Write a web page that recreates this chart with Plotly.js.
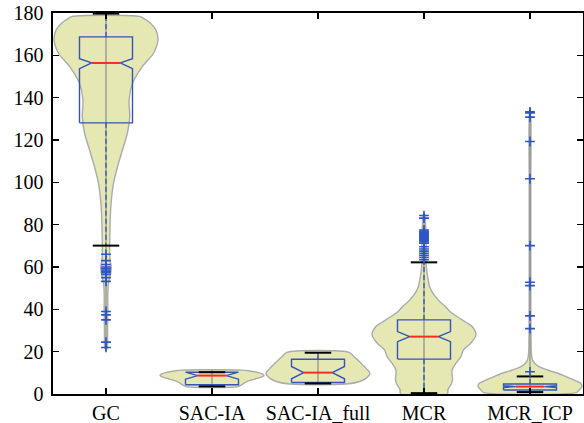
<!DOCTYPE html>
<html>
<head>
<meta charset="utf-8">
<script src="https://cdn.plot.ly/plotly-3.0.1.min.js"></script>
<style>
html,body{margin:0;padding:0;background:#fff;}
#chart{width:584px;height:423px;}
</style>
</head>
<body>
<div id="chart"></div>
<script>
// ---- data ----
const categories = ['GC', 'SAC-IA', 'SAC-IA_full', 'MCR', 'MCR_ICP'];
const q1        = [128.1, 4.4, 5.4, 16.5, 1.9];
const medians   = [156.4, 8.7, 10.1, 27.1, 3.5];
const q3        = [168.7, 10.3, 16.4, 35.0, 4.7];
const notchLo   = [153.7, 7.0, 7.2, 24.7, 3.1];
const notchHi   = [158.4, 10.3, 13.0, 29.5, 3.9];
const whiskerLo = [70.1, 3.6, 5.0, 0.4, 0.9];
const whiskerHi = [179.7, 10.3, 19.5, 62.2, 8.3];

const gcOutliers  = [66.0, 63.0, 61.2, 60.0, 59.3, 58.6, 58.0, 57.4, 56.5, 55.0, 53.2, 39.0, 37.4, 35.0, 24.5, 22.0];
const sacOutliers = [];
const sacFullOutliers = [];
const mcrOutliers = [84.3, 83.1, 77.5, 77.0, 76.5, 76.0, 75.5, 75.0, 74.5, 74.0, 73.5, 73.0, 72.5, 72.0, 71.3, 69.6, 68.5, 67.5, 66.5, 65.5, 64.5, 63.4];
const icpOutliers = [133.3, 132.8, 130.8, 119.3, 101.7, 70.1, 52.8, 51.2, 36.9, 30.9, 10.5];

// violin outlines: levels (y) and relative half-widths (0..1)
const gcLevels  = [20.8, 22, 30, 40, 48, 53, 57, 60, 64, 69, 76, 85, 92, 99.6, 107.5, 115.4, 123.3, 131, 139, 147, 154.7, 161, 167.4, 172, 175.2, 177.5, 178.4];
const gcWidths  = [0.005, 0.025, 0.03, 0.035, 0.035, 0.05, 0.09, 0.1, 0.075, 0.07, 0.075, 0.085, 0.105, 0.145, 0.223, 0.318, 0.413, 0.457, 0.444, 0.514, 0.699, 0.914, 1.0, 0.962, 0.857, 0.724, 0.648];
const sacLevels = [3.5, 4.2, 5.0, 6.0, 7.1, 8.0, 8.7, 9.5, 10.3, 11.0, 11.3];
const sacWidths = [0.5, 0.56, 0.61, 0.68, 0.83, 0.95, 1.0, 0.97, 0.86, 0.7, 0.58];
const sacFullLevels = [4.7, 5.8, 7.5, 9.8, 12, 14, 16, 18, 19.7];
const sacFullWidths = [0.54, 0.79, 0.93, 1.0, 0.93, 0.85, 0.77, 0.68, 0.6];
const mcrLevels = [0, 2, 5, 7, 9, 11.3, 14, 17.6, 20.8, 24, 27.9, 31.8, 34, 36.5, 39, 41.3, 44, 46, 48, 50.7, 55.5, 60.2, 65, 72, 76, 80, 85];
const mcrWidths = [0.45, 0.46, 0.53, 0.55, 0.54, 0.54, 0.6, 0.71, 0.76, 0.9, 1.0, 0.93, 0.8, 0.64, 0.5, 0.41, 0.29, 0.22, 0.16, 0.11, 0.07, 0.045, 0.035, 0.04, 0.04, 0.03, 0.01];
const icpLevels = [0.8, 2, 3.5, 5, 6.2, 7.4, 8.6, 9.8, 11, 12.1, 13.3, 14.5, 16, 17.6, 20, 30, 60, 100, 134.3];
const icpWidths = [0.9, 0.95, 1.0, 0.98, 0.88, 0.77, 0.66, 0.54, 0.38, 0.25, 0.15, 0.09, 0.05, 0.035, 0.025, 0.018, 0.015, 0.015, 0.005];

const violinLevels = [gcLevels, sacLevels, sacFullLevels, mcrLevels, icpLevels];
const violinWidths = [gcWidths, sacWidths, sacFullWidths, mcrWidths, icpWidths];
const outliers = [gcOutliers, sacOutliers, sacFullOutliers, mcrOutliers, icpOutliers];

// ---- styles ----
const VIOLIN_HALF = 0.49, BOX_HALF = 0.25, NOTCH_HALF = 0.135, CAP_HALF = 0.125;
const fillCol = 'rgb(230,232,180)', outlineCol = '#ababab';
const blue = '#3354b8', red = '#ff2a1f';

const traces = [];
categories.forEach((cat, i) => {
  const c = i + 1;
  const lv = violinLevels[i], w = violinWidths[i];
  const xs = [], ys = [];
  for (let k = 0; k < lv.length; k++) { xs.push(c + w[k] * VIOLIN_HALF); ys.push(lv[k]); }
  for (let k = lv.length - 1; k >= 0; k--) { xs.push(c - w[k] * VIOLIN_HALF); ys.push(lv[k]); }
  xs.push(xs[0]); ys.push(ys[0]);
  traces.push({type: 'scatter', mode: 'lines', x: xs, y: ys, fill: 'toself', fillcolor: fillCol,
    line: {color: outlineCol, width: 1.4, shape: 'spline', smoothing: 0.8}, hoverinfo: 'skip'});
  // gray centre line
  traces.push({type: 'scatter', mode: 'lines', x: [c, c], y: [lv[0], lv[lv.length - 1]],
    line: {color: '#8c8c8c', width: 1.2}, hoverinfo: 'skip'});
});

categories.forEach((cat, i) => {
  const c = i + 1;
  // dashed whiskers
  traces.push({type: 'scatter', mode: 'lines', x: [c, c, null, c, c],
    y: [q3[i], whiskerHi[i], null, q1[i], whiskerLo[i]],
    line: {color: blue, width: 1.3, dash: '5px,3px'}, hoverinfo: 'skip'});
  // notched box
  traces.push({type: 'scatter', mode: 'lines',
    x: [c - BOX_HALF, c - BOX_HALF, c - NOTCH_HALF, c - BOX_HALF, c - BOX_HALF, c + BOX_HALF, c + BOX_HALF, c + NOTCH_HALF, c + BOX_HALF, c + BOX_HALF, c - BOX_HALF],
    y: [q1[i], notchLo[i], medians[i], notchHi[i], q3[i], q3[i], notchHi[i], medians[i], notchLo[i], q1[i], q1[i]],
    line: {color: blue, width: 1.4}, hoverinfo: 'skip'});
  // whisker caps
  traces.push({type: 'scatter', mode: 'lines',
    x: [c - CAP_HALF, c + CAP_HALF, null, c - CAP_HALF, c + CAP_HALF],
    y: [whiskerHi[i], whiskerHi[i], null, whiskerLo[i], whiskerLo[i]],
    line: {color: '#000', width: 2}, hoverinfo: 'skip'});
  // median
  traces.push({type: 'scatter', mode: 'lines', x: [c - NOTCH_HALF, c + NOTCH_HALF], y: [medians[i], medians[i]],
    line: {color: red, width: 2}, hoverinfo: 'skip'});
  // outliers
  if (outliers[i].length) {
    traces.push({type: 'scatter', mode: 'markers', x: outliers[i].map(() => c), y: outliers[i],
      marker: {symbol: 'cross-thin', size: 7, line: {color: '#2f55c4', width: 1.6}}, hoverinfo: 'skip'});
  }
});

const axisFont = {family: 'Liberation Serif', size: 20, color: '#000'};
const layout = {
  width: 584, height: 423,
  margin: {l: 53, r: 1, t: 13, b: 29},
  paper_bgcolor: '#fff', plot_bgcolor: '#fff',
  showlegend: false,
  xaxis: {range: [0.5, 5.5], tickmode: 'array', tickvals: [1, 2, 3, 4, 5], ticktext: categories,
    ticks: 'inside', ticklen: 6, tickwidth: 1.5, tickcolor: '#000',
    showline: true, linecolor: '#000', linewidth: 1.6, mirror: 'ticks',
    showgrid: false, zeroline: false, tickfont: axisFont, ticklabelstandoff: 0},
  yaxis: {range: [0, 180], tickmode: 'linear', tick0: 0, dtick: 20,
    ticks: 'inside', ticklen: 6, tickwidth: 1.5, tickcolor: '#000',
    showline: true, linecolor: '#000', linewidth: 1.6, mirror: 'ticks',
    showgrid: false, zeroline: false, tickfont: axisFont, ticklabelstandoff: 4}
};
Plotly.newPlot('chart', traces, layout, {displayModeBar: false, staticPlot: true});
</script>
</body>
</html>
